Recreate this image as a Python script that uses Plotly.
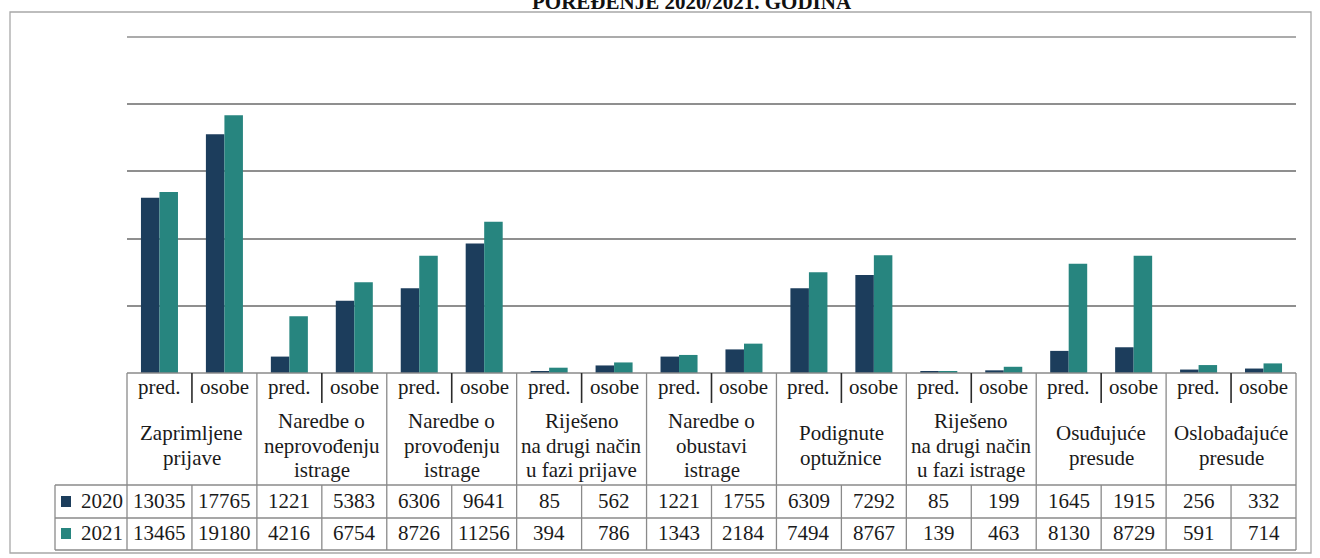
import plotly.graph_objects as go

# ---- data ----
categories = [
    "Zaprimljene<br>prijave",
    "Naredbe o<br>neprovođenju<br>istrage",
    "Naredbe o<br>provođenju<br>istrage",
    "Riješeno<br>na drugi način<br>u fazi prijave",
    "Naredbe o<br>obustavi<br>istrage",
    "Podignute<br>optužnice",
    "Riješeno<br>na drugi način<br>u fazi istrage",
    "Osuđujuće<br>presude",
    "Oslobađajuće<br>presude",
]
subcats = ["pred.", "osobe"]
series_names = ["2020", "2021"]
v2020 = [13035, 17765, 1221, 5383, 6306, 9641, 85, 562, 1221, 1755,
         6309, 7292, 85, 199, 1645, 1915, 256, 332]
v2021 = [13465, 19180, 4216, 6754, 8726, 11256, 394, 786, 1343, 2184,
         7494, 8767, 139, 463, 8130, 8729, 591, 714]
title_text = "POREĐENJE 2020/2021. GODINA"

# ---- styles ----
C2020 = "#1c3d5c"
C2021 = "#27857f"
LINE = "#8a8a8a"
GRID = "#8f8f8f"
TXT = "#1a1a1a"
FONT = "Liberation Serif, Times New Roman, Tinos, DejaVu Serif, serif"
FS = 21

W, H = 1320, 558
L, R = 127, 1296
T, B = 37, 373

N = len(v2020)
xs = list(range(N))


def py(Y):
    return (B - Y) / (B - T)


def px(X):
    return (X - L) / (R - L)


fig = go.Figure()
fig.add_trace(go.Bar(x=xs, y=v2020, name=series_names[0], marker_color=C2020,
                     marker_line_width=0, hoverinfo="skip"))
fig.add_trace(go.Bar(x=xs, y=v2021, name=series_names[1], marker_color=C2021,
                     marker_line_width=0, hoverinfo="skip"))

shapes = []
annotations = []


def hline(Y, x0, x1, color=LINE, w=1.3):
    shapes.append(dict(type="line", xref="paper", yref="paper",
                       x0=x0, x1=x1, y0=py(Y), y1=py(Y),
                       line=dict(color=color, width=w)))


def vline(xp, Y0, Y1, color=LINE, w=1.3):
    shapes.append(dict(type="line", xref="paper", yref="paper",
                       x0=xp, x1=xp, y0=py(Y0), y1=py(Y1),
                       line=dict(color=color, width=w)))


LEG_L = px(55)
# top gridline (edge of the value range)
hline(T, 0, 1, color=GRID, w=1.6)
# horizontal table lines
hline(373, 0, 1)
hline(485, LEG_L, 1)
hline(518, LEG_L, 1)
hline(550, LEG_L, 1)
# vertical lines
for i in range(N + 1):
    xp = i / N
    if i % 2 == 0:
        vline(xp, 373, 550)
    else:
        vline(xp, 373, 403, color="#2a2a2a", w=1.6)
        vline(xp, 485, 550)
vline(LEG_L, 485, 550)

# outer border
shapes.append(dict(type="rect", xref="paper", yref="paper",
                   x0=px(10), x1=px(1311), y0=py(12), y1=py(553),
                   line=dict(color="#a8a8a8", width=1.3), fillcolor="rgba(0,0,0,0)",
                   layer="below"))


def txt(x, xref, Y, s, xanchor="center", size=FS):
    annotations.append(dict(x=x, xref=xref, y=py(Y), yref="paper", text=s,
                            showarrow=False, xanchor=xanchor, yanchor="middle",
                            font=dict(family=FONT, size=size, color=TXT),
                            align="center"))


# subcategory labels
for i in xs:
    txt(i, "x", 387, subcats[i % 2])

# category labels (each line placed separately for tight leading)
for g, name in enumerate(categories):
    lines = name.split("<br>")
    n = len(lines)
    for k, ln in enumerate(lines):
        Y = 445.5 + (k - (n - 1) / 2) * 24.5
        txt(2 * g + 0.5, "x", Y, ln)

# data rows
for i in xs:
    txt(i, "x", 501, str(v2020[i]))
    txt(i, "x", 533, str(v2021[i]))

# legend keys in table
for Yc, col, nm in [(501, C2020, series_names[0]), (533, C2021, series_names[1])]:
    shapes.append(dict(type="rect", xref="paper", yref="paper",
                       x0=px(61), x1=px(71), y0=py(Yc - 5), y1=py(Yc + 6),
                       fillcolor=col, line=dict(width=0)))
    txt(px(125), "paper", Yc, nm, xanchor="right")

# title (sits at the very top edge, as in the reference)
annotations.append(dict(x=px(692), xref="paper", y=py(2), yref="paper",
                        text="<b>" + title_text + "</b>", showarrow=False,
                        xanchor="center", yanchor="middle",
                        font=dict(family=FONT, size=21, color="#111111")))

fig.update_layout(
    width=W, height=H, autosize=False,
    margin=dict(l=L, r=W - R, t=T, b=H - B, pad=0),
    paper_bgcolor="white", plot_bgcolor="white",
    barmode="group", bargap=0.43, bargroupgap=0,
    showlegend=False, hovermode=False,
    shapes=shapes, annotations=annotations,
    font=dict(family=FONT, size=FS, color=TXT),
)
fig.update_xaxes(range=[-0.5, N - 0.5], showticklabels=False, showgrid=False,
                 zeroline=False, showline=False, ticks="")
fig.update_yaxes(range=[0, 25000], dtick=5000, showticklabels=False,
                 showgrid=True, gridcolor=GRID, gridwidth=1.6,
                 zeroline=False, showline=False, ticks="")

fig.write_html("out.html", config={"displayModeBar": False},
               post_script="document.body.style.margin='0';"
                           "document.body.style.overflow='hidden';")
